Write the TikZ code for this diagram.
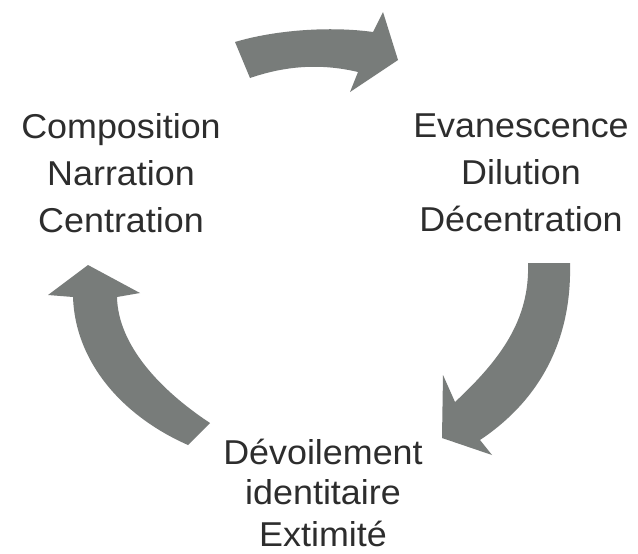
\documentclass[tikz,border=0pt]{standalone}
\usepackage{fontspec}
\setmainfont{Liberation Sans}[FakeStretch=1.04]
\definecolor{arrowgray}{RGB}{120,124,122}
\definecolor{textgray}{RGB}{45,45,45}
\begin{document}
\begin{tikzpicture}[x=1pt,y=-1pt,
  label/.style={inner sep=0pt,anchor=base,text=textgray,font=\fontsize{34.5}{47}\selectfont,align=center},
  bigarrow/.style={fill=arrowgray,draw=none}]
\useasboundingbox[fill=white] (0,0) rectangle (638,554);
% text blocks (anchor base = baseline of the last line)
\node[label] (left)  at (121,232) {Composition\\Narration\\Centration};
\node[label] (right) at (521,231) {Evanescence\\Dilution\\D\'ecentration};
\node[label,font=\fontsize{34.5}{40}\selectfont] (bottom) at (323,546) {D\'evoilement\\identitaire\\[2pt]Extimit\'e};
% top arrow
\path[bigarrow] (235,42) .. controls (275,30) and (330,26) .. (373,32)
  -- (383,12) -- (398,60) -- (350,92) -- (358,72)
  .. controls (320,63) and (285,66) .. (250,78) -- cycle;
% right arrow
\path[bigarrow] (528,263) -- (570,263)
  .. controls (572,340) and (540,400) .. (480,440)
  -- (492,455) -- (442,438) -- (443,375) -- (455,402)
  .. controls (500,360) and (530,320) .. (528,263) -- cycle;
% left arrow
\path[bigarrow] (188,445) -- (210,423)
  .. controls (160,390) and (118,345) .. (117,297)
  -- (140,293) -- (88,265) -- (48,295) -- (73,297)
  .. controls (75,360) and (120,415) .. (188,445) -- cycle;
\end{tikzpicture}
\end{document}
